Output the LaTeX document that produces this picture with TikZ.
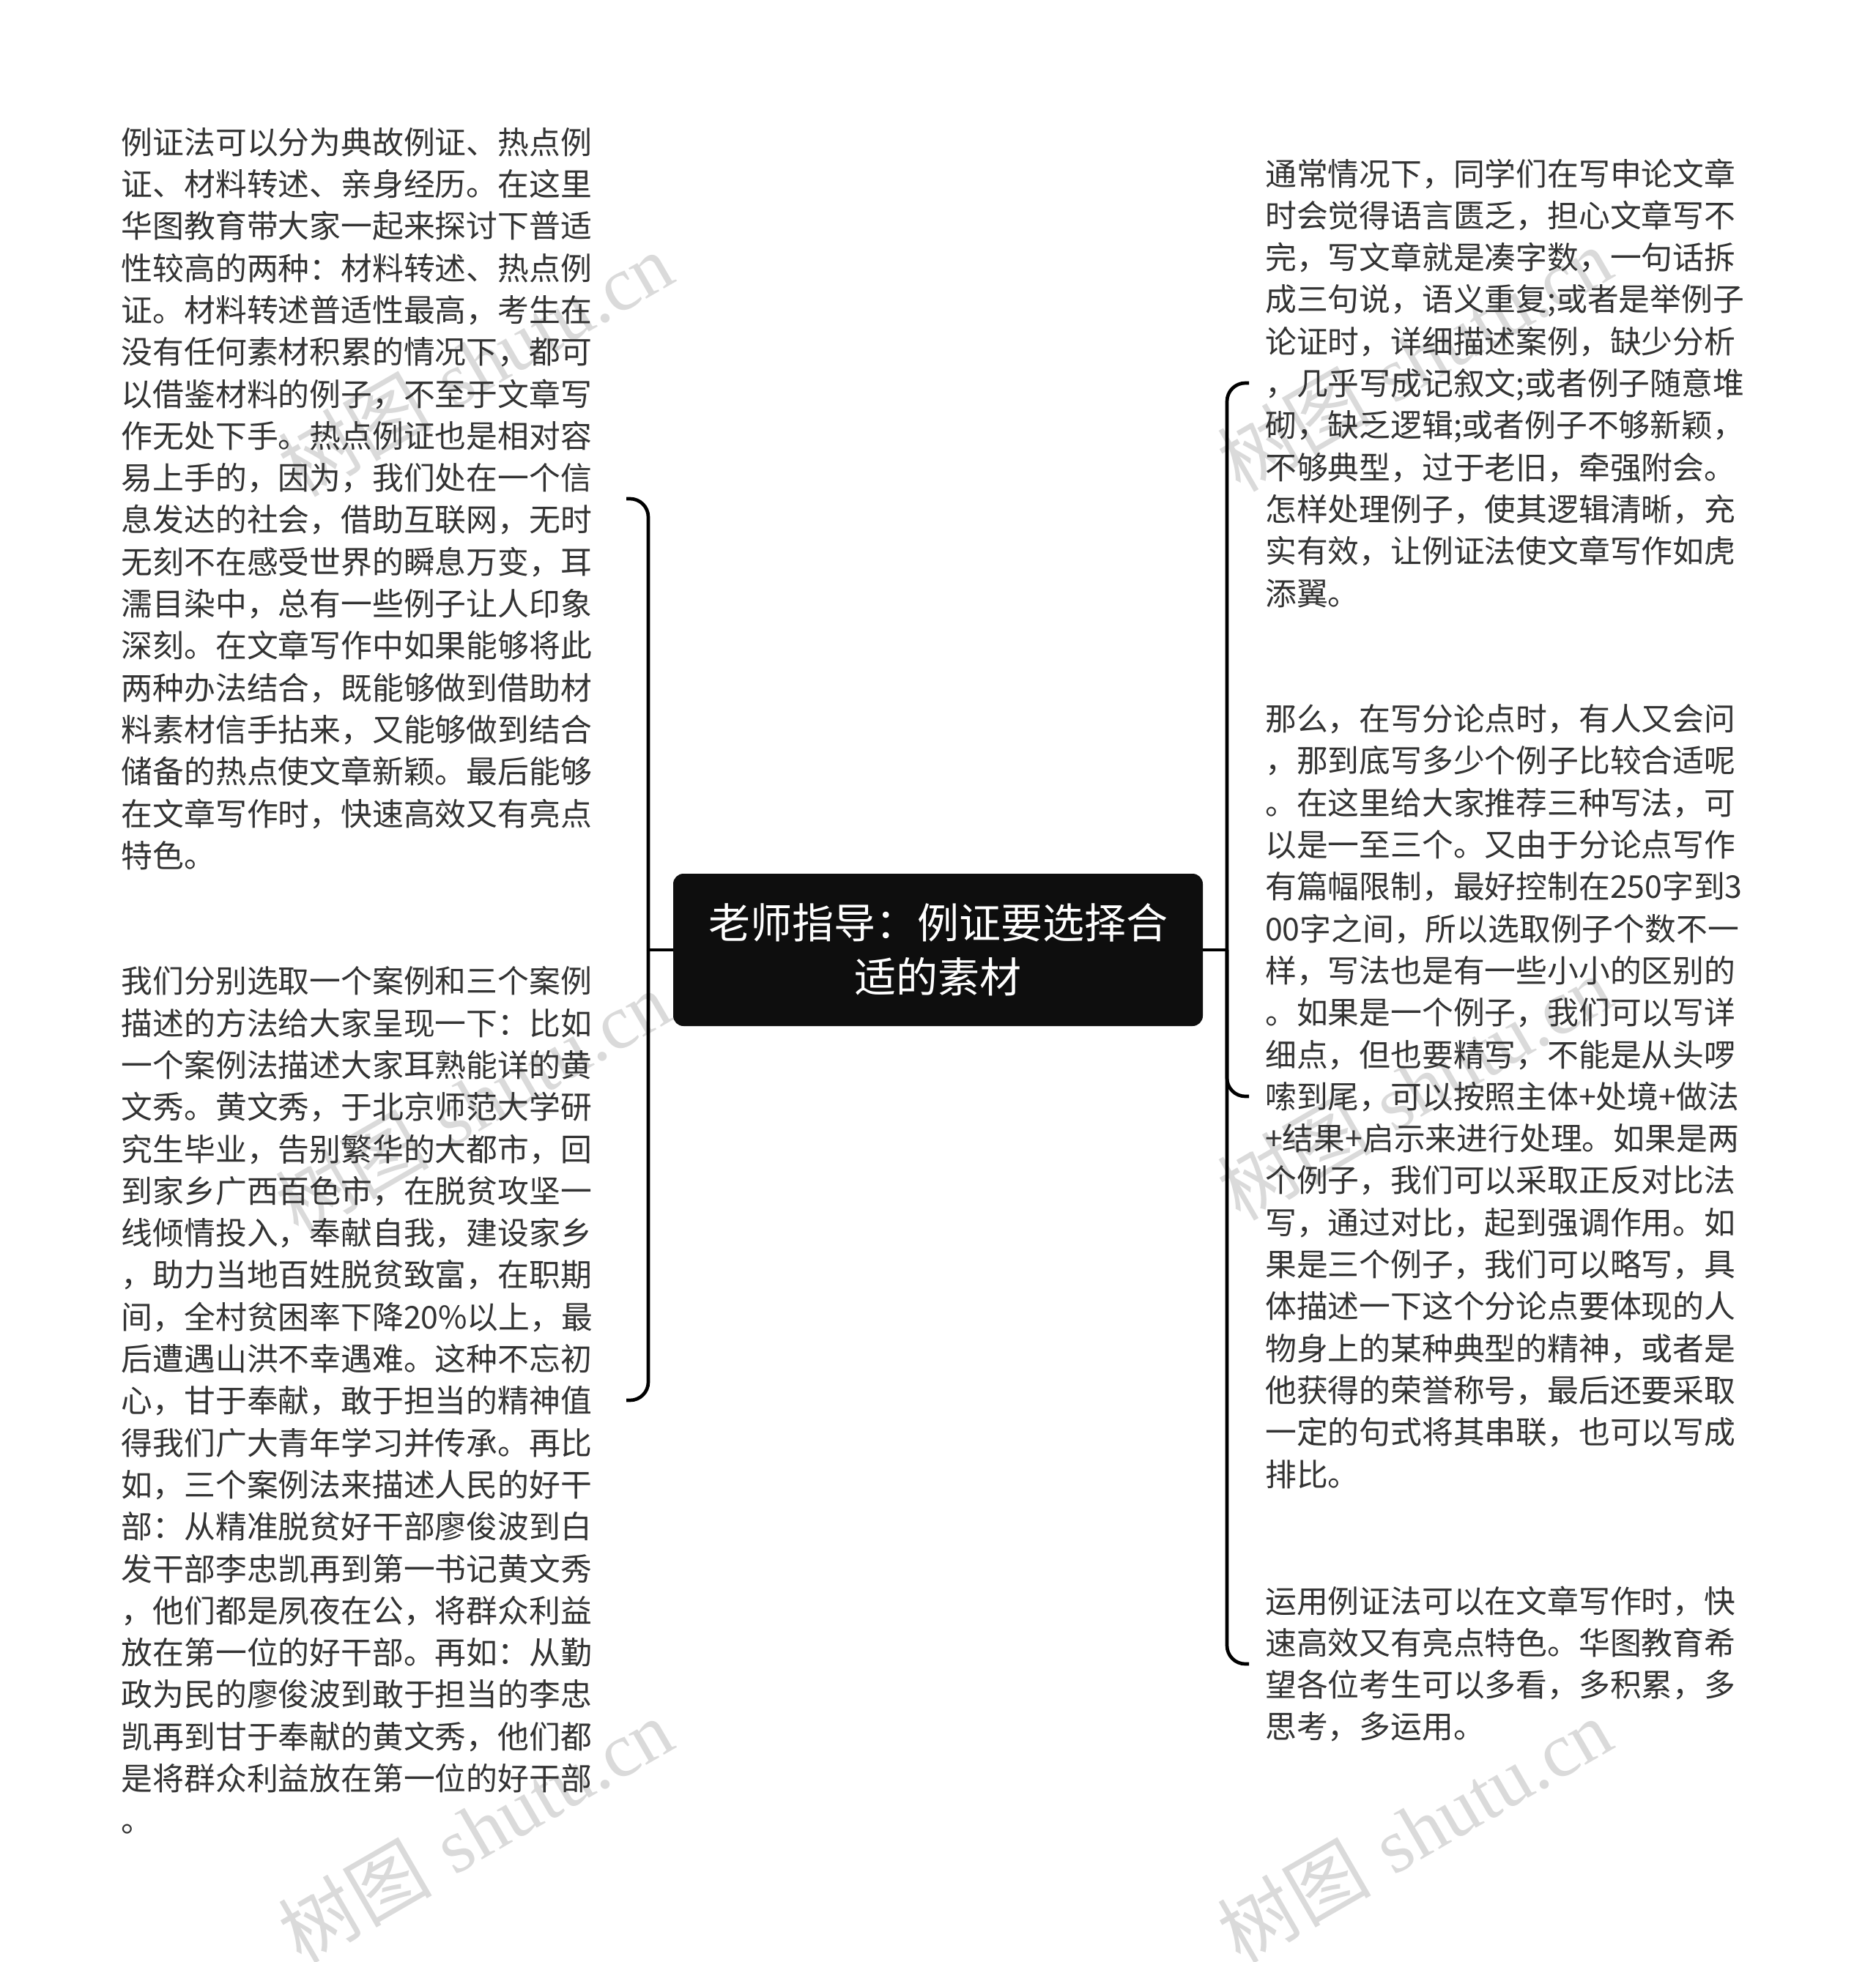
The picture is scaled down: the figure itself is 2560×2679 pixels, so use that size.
\documentclass[tikz,border=0pt]{standalone}
\usepackage{fontspec}
\newfontfamily\cjk{Noto Sans CJK SC}
\newfontfamily\wmserif{Liberation Serif}
\definecolor{txt}{RGB}{51,51,51}
\definecolor{rootfill}{RGB}{14,14,14}
\definecolor{wmcol}{RGB}{218,218,218}
\tikzset{
  leaf/.style={font=\cjk\fontsize{42.8pt}{57.3pt}\selectfont, text=txt, text width=642pt, align=left, inner ysep=0pt},
  rootbox/.style={fill=rootfill, rounded corners=14pt, minimum width=723pt, minimum height=208pt, inner sep=0pt,
    text=white, align=center, font=\cjk\fontsize{57pt}{74pt}\selectfont},
  conn/.style={line width=4.7pt, draw=black, rounded corners=25pt},
  trunk/.style={line width=4.7pt, draw=black},
  wmark/.style={text=wmcol, rotate=30, inner sep=0pt, font=\fontsize{105pt}{110pt}\selectfont}
}
\begin{document}
\begin{tikzpicture}[x=1pt,y=-1pt]
\fill[white] (0,0) rectangle (2560,2679);
\useasboundingbox (0,0) rectangle (2560,2679);

% watermarks
\node[wmark] (w1) at (649,497) {{\cjk 树图} {\wmserif shutu.cn}};
\node[wmark] (w2) at (645,1505) {{\cjk 树图} {\wmserif shutu.cn}};
\node[wmark] (w3) at (649,2499) {{\cjk 树图} {\wmserif shutu.cn}};
\node[wmark] (w4) at (1931,490) {{\cjk 树图} {\wmserif shutu.cn}};
\node[wmark] (w5) at (1931,1485) {{\cjk 树图} {\wmserif shutu.cn}};
\node[wmark] (w6) at (1931,2499) {{\cjk 树图} {\wmserif shutu.cn}};

% root
\node[rootbox] (root) at (1280.5,1297) {老师指导：例证要选择合\\适的素材};

% left leaves
\node[leaf, anchor=east, inner xsep=47pt] (L1) at (855,681) {例证法可以分为典故例证、热点例\\
证、材料转述、亲身经历。在这里\\
华图教育带大家一起来探讨下普适\\
性较高的两种：材料转述、热点例\\
证。材料转述普适性最高，考生在\\
没有任何素材积累的情况下，都可\\
以借鉴材料的例子，不至于文章写\\
作无处下手。热点例证也是相对容\\
易上手的，因为，我们处在一个信\\
息发达的社会，借助互联网，无时\\
无刻不在感受世界的瞬息万变，耳\\
濡目染中，总有一些例子让人印象\\
深刻。在文章写作中如果能够将此\\
两种办法结合，既能够做到借助材\\
料素材信手拈来，又能够做到结合\\
储备的热点使文章新颖。最后能够\\
在文章写作时，快速高效又有亮点\\
特色。};

\node[leaf, anchor=east, inner xsep=47pt] (L2) at (855,1912) {我们分别选取一个案例和三个案例\\
描述的方法给大家呈现一下：比如\\
一个案例法描述大家耳熟能详的黄\\
文秀。黄文秀，于北京师范大学研\\
究生毕业，告别繁华的大都市，回\\
到家乡广西百色市，在脱贫攻坚一\\
线倾情投入，奉献自我，建设家乡\\
，助力当地百姓脱贫致富，在职期\\
间，全村贫困率下降20\%以上，最\\
后遭遇山洪不幸遇难。这种不忘初\\
心，甘于奉献，敢于担当的精神值\\
得我们广大青年学习并传承。再比\\
如，三个案例法来描述人民的好干\\
部：从精准脱贫好干部廖俊波到白\\
发干部李忠凯再到第一书记黄文秀\\
，他们都是夙夜在公，将群众利益\\
放在第一位的好干部。再如：从勤\\
政为民的廖俊波到敢于担当的李忠\\
凯再到甘于奉献的黄文秀，他们都\\
是将群众利益放在第一位的好干部\\
。};

% right leaves
\node[leaf, anchor=west, inner xsep=22pt] (R1) at (1705,523) {通常情况下，同学们在写申论文章\\
时会觉得语言匮乏，担心文章写不\\
完，写文章就是凑字数，一句话拆\\
成三句说，语义重复;或者是举例子\\
论证时，详细描述案例，缺少分析\\
，几乎写成记叙文;或者例子随意堆\\
砌，缺乏逻辑;或者例子不够新颖，\\
不够典型，过于老旧，牵强附会。\\
怎样处理例子，使其逻辑清晰，充\\
实有效，让例证法使文章写作如虎\\
添翼。};

\node[leaf, anchor=west, inner xsep=22pt] (R2) at (1705,1497) {那么，在写分论点时，有人又会问\\
，那到底写多少个例子比较合适呢\\
。在这里给大家推荐三种写法，可\\
以是一至三个。又由于分论点写作\\
有篇幅限制，最好控制在250字到3\\
00字之间，所以选取例子个数不一\\
样，写法也是有一些小小的区别的\\
。如果是一个例子，我们可以写详\\
细点，但也要精写，不能是从头啰\\
嗦到尾，可以按照主体+处境+做法\\
+结果+启示来进行处理。如果是两\\
个例子，我们可以采取正反对比法\\
写，通过对比，起到强调作用。如\\
果是三个例子，我们可以略写，具\\
体描述一下这个分论点要体现的人\\
物身上的某种典型的精神，或者是\\
他获得的荣誉称号，最后还要采取\\
一定的句式将其串联，也可以写成\\
排比。};

\node[leaf, anchor=west, inner xsep=22pt] (R3) at (1705,2272) {运用例证法可以在文章写作时，快\\
速高效又有亮点特色。华图教育希\\
望各位考生可以多看，多积累，多\\
思考，多运用。};

% connectors
\coordinate (lj) at (885,1297);
\coordinate (rj) at (1675,1297);
\draw[trunk] (root.west) -- (lj);
\draw[trunk] (root.east) -- (rj);
\draw[conn] (lj) |- (L1.east);
\draw[conn] (lj) |- (L2.east);
\draw[conn] (rj) |- (R1.west);
\draw[conn] (rj) |- (R2.west);
\draw[conn] (rj) |- (R3.west);
\end{tikzpicture}
\end{document}
